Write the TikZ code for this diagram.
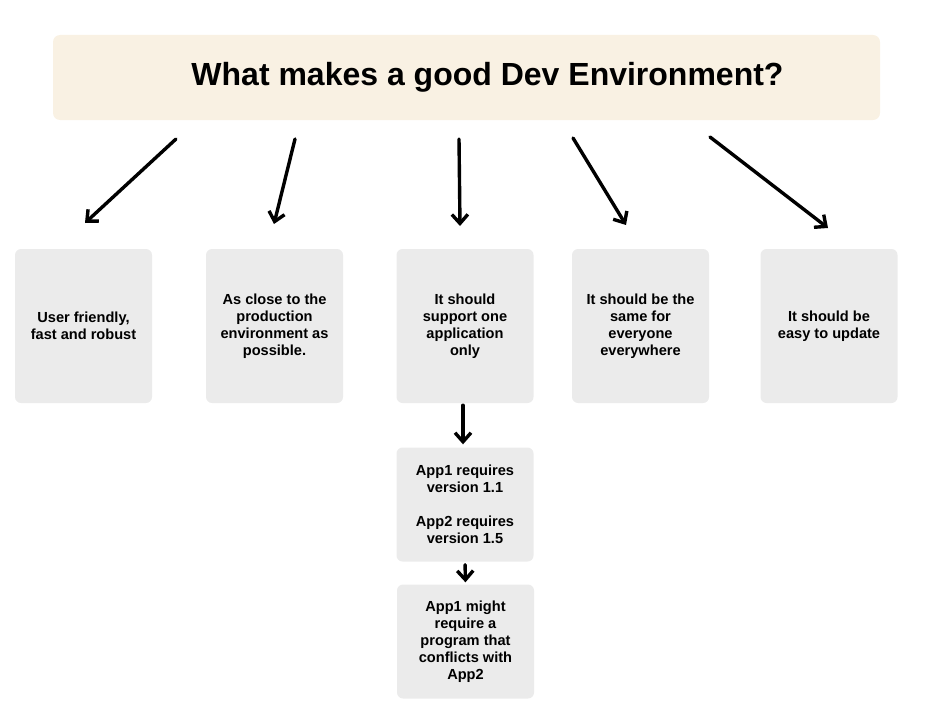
\documentclass[tikz,border=0pt]{standalone}
\usepackage{fontspec}
\setmainfont{Liberation Sans}
\usetikzlibrary{arrows.meta, positioning}
\definecolor{beige}{HTML}{F9F1E3}
\definecolor{boxgray}{HTML}{EBEBEB}

\begin{document}
\begin{tikzpicture}[x=1pt,y=-1pt,
  box/.style={fill=boxgray,rounded corners=6pt,minimum width=137pt,minimum height=154pt,align=center,font=\fontsize{14.6}{17}\selectfont\bfseries,inner sep=0pt},
  smallbox/.style={box,minimum height=114pt},
  arr/.style={line width=3.4pt,line cap=round,-{Straight Barb[length=9pt,width=16pt,line width=3.4pt]}}]
\useasboundingbox (0,0) rectangle (949,706);
% title
\node[fill=beige,rounded corners=7pt,minimum width=827pt,minimum height=85pt,inner sep=0pt,font=\fontsize{32}{34}\selectfont\bfseries] (title) at (466.5,77.5) {\hspace*{42pt}What makes a good Dev Environment?};
% first row
\node[box] (friendly) at (83.5,326) {User friendly,\\fast and robust};
\node[box] (close) at (274.5,326) {As close to the\\production\\environment as\\possible.};
\node[box] (oneapp) at (465,326) {It should\\support one\\application\\only};
\node[box] (same) at (640.5,326) {It should be the\\same for\\everyone\\everywhere};
\node[box] (update) at (829,326) {It should be\\easy to update};
% below
\node[smallbox] (versions) at (465,504.5) {App1 requires\\version 1.1\\[17pt]App2 requires\\version 1.5};
\node[smallbox] (conflict) at (465.5,641.5) {App1 might\\require a\\program that\\conflicts with\\App2};
% arrow ends
\coordinate (s1) at (176,139); \coordinate (e1) at (85,223);
\coordinate (s2) at (295,139); \coordinate (e2) at (274,224);
\coordinate (s3) at (459,139); \coordinate (e3) at (460,226);
\coordinate (s4) at (573,138); \coordinate (e4) at (626,225);
\coordinate (s5) at (710,137); \coordinate (e5) at (828,228);
\draw[arr] (s1) -- (e1);
\draw[arr] (s2) -- (e2);
\draw[arr] (s3) -- (e3);
\draw[arr] (s4) -- (e4);
\draw[arr] (s5) -- (e5);
\draw[arr,shorten <=2pt,shorten >=3pt] ([xshift=-2pt]oneapp.south) -- ([xshift=-2pt]versions.north);
\draw[arr,shorten <=3pt,shorten >=2pt] (versions.south) -- (conflict.north);
\end{tikzpicture}
\end{document}
